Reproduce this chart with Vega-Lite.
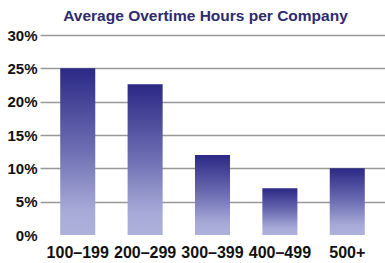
{
  "$schema": "https://vega.github.io/schema/vega-lite/v6.json",
  "width": 345,
  "height": 200,
  "autosize": {"type": "none"},
  "padding": {"left": 40, "top": 35, "right": 0, "bottom": 28},
  "background": "white",
  "title": {
    "text": "Average Overtime Hours per Company",
    "font": "Liberation Sans",
    "fontSize": 15.5,
    "fontWeight": "bold",
    "color": "#2E2A6E",
    "anchor": "middle",
    "dx": -7,
    "offset": 4
  },
  "data": {
    "values": [
      {"range": "100–199", "pct": 25},
      {"range": "200–299", "pct": 22.6},
      {"range": "300–399", "pct": 12},
      {"range": "400–499", "pct": 7},
      {"range": "500+", "pct": 10}
    ]
  },
  "mark": {
    "type": "bar",
    "color": {
      "gradient": "linear",
      "x1": 0, "y1": 0, "x2": 0, "y2": 1,
      "stops": [
        {"offset": 0, "color": "#2B2985"},
        {"offset": 0.5, "color": "#6E6FB4"},
        {"offset": 0.85, "color": "#A7AAD7"},
        {"offset": 1, "color": "#AEB1DB"}
      ]
    }
  },
  "encoding": {
    "x": {
      "field": "range",
      "type": "nominal",
      "sort": null,
      "scale": {"paddingInner": 0.48, "paddingOuter": 0.3},
      "axis": {
        "title": null,
        "labelAngle": 0,
        "domain": false,
        "ticks": false,
        "labelFont": "Liberation Sans",
        "labelFontSize": 16,
        "labelFontWeight": "bold",
        "labelColor": "#111",
        "labelPadding": 9
      }
    },
    "y": {
      "field": "pct",
      "type": "quantitative",
      "scale": {"domain": [0, 30], "nice": false},
      "axis": {
        "title": null,
        "values": [0, 5, 10, 15, 20, 25, 30],
        "labelExpr": "datum.value + '%'",
        "domain": false,
        "ticks": false,
        "labelFont": "Liberation Sans",
        "labelFontSize": 15,
        "labelFontWeight": "bold",
        "labelColor": "#111",
        "labelPadding": 3,
        "gridColor": "#999999",
        "gridWidth": 1.5,
        "gridOpacity": {"condition": {"test": "datum.value === 0", "value": 0}, "value": 1}
      }
    }
  },
  "config": {"view": {"stroke": null}}
}
